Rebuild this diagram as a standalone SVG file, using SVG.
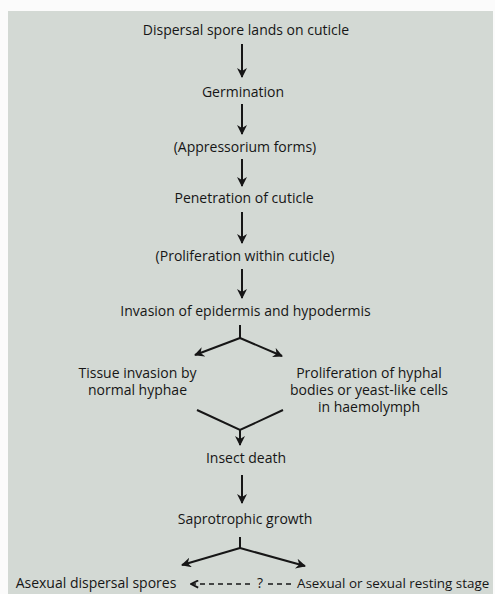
<svg xmlns="http://www.w3.org/2000/svg" width="495" height="594" viewBox="0 0 495 594">
<defs>
<style>
.t{font-family:"Open Sans","Liberation Sans",sans-serif;font-size:14px;fill:#161616;text-anchor:middle}
.l{stroke:#161616;stroke-width:2;fill:none}
.d{stroke:#161616;stroke-width:1.6;fill:none;stroke-dasharray:5 4}
</style>
<marker id="ah" viewBox="0 0 10 10" refX="9" refY="5" markerUnits="userSpaceOnUse" markerWidth="10" markerHeight="10" orient="auto">
<path d="M0,0 L10,5 L0,10 L3,5 z" fill="#161616"/>
</marker>
<marker id="oh" viewBox="0 0 10 10" refX="9" refY="5" markerUnits="userSpaceOnUse" markerWidth="9" markerHeight="9" orient="auto">
<path d="M1,1 L9,5 L1,9" fill="none" stroke="#161616" stroke-width="2"/>
</marker>
</defs>
<rect width="495" height="594" fill="#fbfbfb"/>
<rect x="8" y="11" width="485" height="583" fill="#d3d9d4"/>
<g id="n1"><text class="t" x="246" y="34.5">Dispersal spore lands on cuticle</text></g>
<g id="n2"><text class="t" x="243" y="96.5">Germination</text></g>
<g id="n3"><text class="t" x="245" y="151.5">(Appressorium forms)</text></g>
<g id="n4"><text class="t" x="244" y="202.5">Penetration of cuticle</text></g>
<g id="n5"><text class="t" x="245" y="260.5">(Proliferation within cuticle)</text></g>
<g id="n6"><text class="t" x="245.5" y="315.5">Invasion of epidermis and hypodermis</text></g>
<g id="n7"><text class="t" x="137.5" y="377.5">Tissue invasion by</text><text class="t" x="137.5" y="394.5">normal hyphae</text></g>
<g id="n8"><text class="t" x="369" y="377.5">Proliferation of hyphal</text><text class="t" x="369" y="394.5">bodies or yeast-like cells</text><text class="t" x="369" y="411.5">in haemolymph</text></g>
<g id="n9"><text class="t" x="246" y="463">Insect death</text></g>
<g id="n10"><text class="t" x="245" y="524">Saprotrophic growth</text></g>
<g id="n11"><text class="t" x="96" y="588">Asexual dispersal spores</text></g>
<g id="n12"><text class="t" x="297" y="588" style="text-anchor:start;font-size:13.4px">Asexual or sexual resting stage</text></g>
<g id="connectors">
<line class="l" x1="242" y1="44" x2="242" y2="77" marker-end="url(#ah)"/>
<line class="l" x1="242" y1="104" x2="242" y2="134" marker-end="url(#ah)"/>
<line class="l" x1="242" y1="159" x2="242" y2="186" marker-end="url(#ah)"/>
<line class="l" x1="242" y1="212" x2="242" y2="243" marker-end="url(#ah)"/>
<line class="l" x1="242" y1="269" x2="242" y2="298" marker-end="url(#ah)"/>
<line class="l" x1="240" y1="325" x2="240" y2="338"/>
<line class="l" x1="240" y1="338" x2="195" y2="355" marker-end="url(#ah)"/>
<line class="l" x1="240" y1="338" x2="282" y2="356" marker-end="url(#ah)"/>
<polyline class="l" points="197,410 240,430 283,410"/>
<line class="l" x1="240" y1="430" x2="240" y2="445" marker-end="url(#ah)"/>
<line class="l" x1="242" y1="475" x2="242" y2="503" marker-end="url(#ah)"/>
<line class="l" x1="240" y1="537" x2="240" y2="548"/>
<line class="l" x1="240" y1="548" x2="182" y2="565" marker-end="url(#ah)"/>
<line class="l" x1="240" y1="548" x2="305" y2="566" marker-end="url(#ah)"/>
<line class="d" x1="250" y1="584" x2="191" y2="584" marker-end="url(#oh)"/>
<line class="d" x1="291" y1="584" x2="268" y2="584"/>
<text class="t" x="260" y="588">?</text>
</g>
</svg>
